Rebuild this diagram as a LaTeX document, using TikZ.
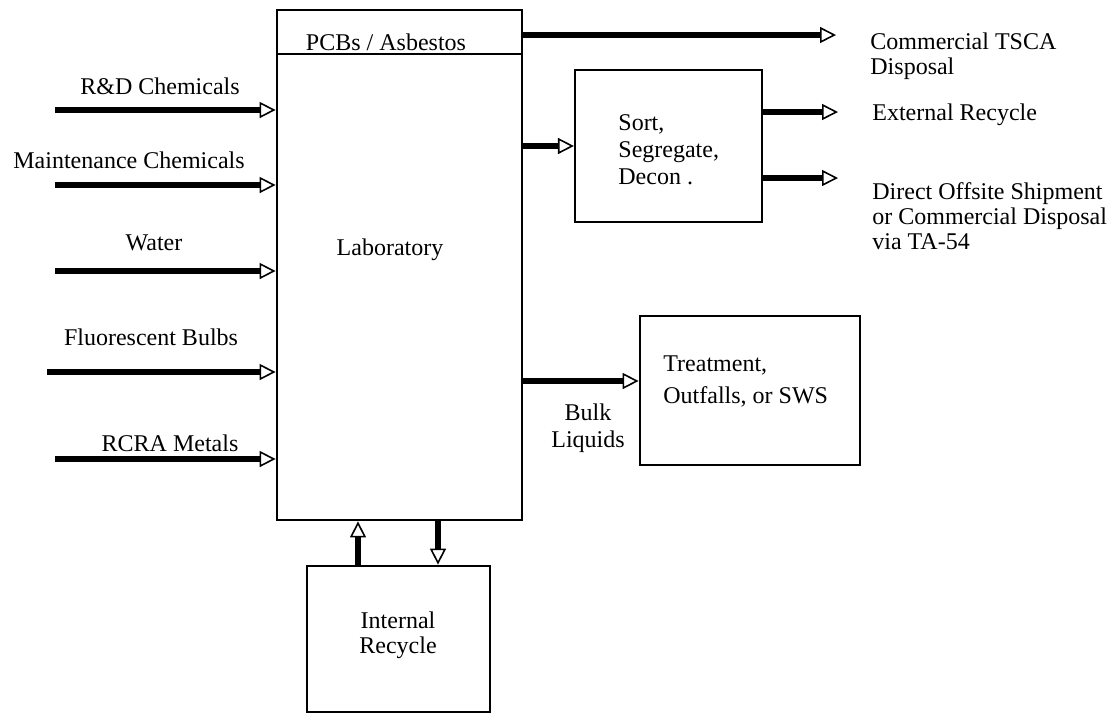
\documentclass[tikz,border=0pt]{standalone}
\usepackage{fontspec}
\setmainfont{Liberation Serif}
\usetikzlibrary{arrows.meta, positioning}

\tikzset{
    box/.style={draw, line width=1.4pt, inner sep=0pt},
    flow/.style={line width=2.9pt, -{Triangle[open, length=8pt, width=8pt, line width=0.8pt]}},
    lbl/.style={font=\fontsize{12}{12.5}\selectfont, inner sep=0pt},
    note/.style={lbl, align=left, anchor=west}
}

\begin{document}
\begin{tikzpicture}[x=0.5pt, y=-0.5pt]
    \useasboundingbox (0,0) rectangle (1118,714);

    % Main box
    \node[box, minimum width=122.5pt, minimum height=255pt] (lab) at (399.5,265) {};
    \node[lbl] (labtxt) at (390,250) {Laboratory};
    \draw[line width=0.7pt] (277,54) -- (522,54);
    \node[lbl] (pcb) at (386,42) {PCBs / Asbestos};

    % Inputs
    \foreach \i/\y/\xs/\xl/\yl/\txt in {1/110/55/160/86/R\&D Chemicals,
                                      2/185/55/129/160/Maintenance Chemicals,
                                      3/271/55/154/243/Water,
                                      4/372/47/151/337/Fluorescent Bulbs,
                                      5/459/55/170/443/RCRA Metals} {
        \coordinate (in\i) at (\xs,\y);
        \node[lbl] (inlbl\i) at (\xl,\yl) {\txt};
        \draw[flow] (in\i) -- (in\i -| lab.west);
    }

    % Outputs
    \node[box, line width=1.1pt, minimum width=93.5pt, minimum height=76pt] (sort) at (668.5,146) {};
    \node[lbl, align=left, anchor=west, font=\fontsize{12}{13.5}\selectfont] (sorttxt) at (618,150) {Sort,\\Segregate,\\Decon .};

    \node[box, minimum width=110pt, minimum height=74.5pt] (treat) at (750,390.5) {};
    \node[note, font=\fontsize{12}{16}\selectfont] (treattxt) at (663,381) {Treatment,\\Outfalls, or SWS};

    \node[box, minimum width=91.5pt, minimum height=73pt] (intrec) at (398.5,639) {};
    \node[lbl, align=center] (intrectxt) at (398,635) {Internal\\Recycle};

    \coordinate (tsca) at (836,35);
    \coordinate (extrec) at (838,112);
    \coordinate (offsite) at (838,178);
    \node[note] (tscatxt) at (870,56) {Commercial TSCA\\Disposal};
    \node[note] (extrectxt) at (872,115) {External Recycle};
    \node[note] (offtxt) at (872,216) {Direct Offsite Shipment\\or Commercial Disposal\\via TA-54};
    \node[lbl, align=center, font=\fontsize{12}{13.5}\selectfont] (bulk) at (588,428) {Bulk\\Liquids};

    \draw[flow] (tsca -| lab.east) -- (tsca);
    \draw[flow] (lab.east |- sort.west) -- (sort.west);
    \draw[flow] (lab.east |- 0,381) -- (treat.west |- 0,381);
    \draw[flow] (sort.east |- extrec) -- (extrec);
    \draw[flow] (sort.east |- offsite) -- (offsite);

    % Recycle loop
    \draw[flow] (intrec.north -| 358,0) -- (lab.south -| 358,0);
    \draw[flow] (lab.south -| 438,0) -- (intrec.north -| 438,0);
\end{tikzpicture}
\end{document}
